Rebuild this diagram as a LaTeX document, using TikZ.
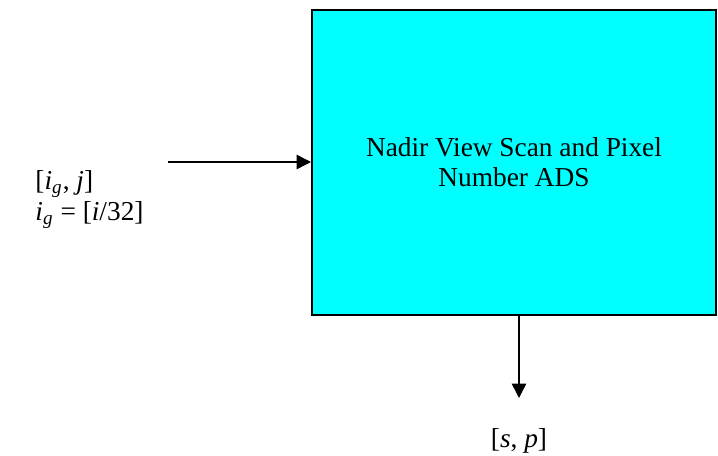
\documentclass[tikz,border=0pt]{standalone}
\usepackage{fontspec}
\setmainfont{Liberation Serif}
\usetikzlibrary{arrows.meta}

\definecolor{adscyan}{RGB}{0,255,255}
\newcommand{\itsub}[2]{\textit{#1}\textsubscript{\textit{#2}}}

\tikzset{
  adsbox/.style={draw, line width=0.9pt, fill=adscyan, inner sep=0pt,
    minimum width=181.8pt, minimum height=137.3pt, align=center},
  flow/.style={line width=0.7pt, -{Triangle[length=6.5pt,width=6.5pt]}},
  lbl/.style={inner sep=0pt, anchor=base west}
}

\begin{document}
\begin{tikzpicture}[x=0.45pt, y=-0.45pt, font=\fontsize{12.3pt}{13.5pt}\selectfont]
    \useasboundingbox (0,0) rectangle (718,456);
    \node[adsbox] (ads) at (514,162.5) {Nadir View Scan and Pixel\\Number ADS};
    \node[lbl] (igj) at (35,190) {[\itsub{i}{g}, \textit{j}]};
    \node[lbl] (igdef) at (35,221) {\itsub{i}{g} = [\textit{i}/32]};
    \node[inner sep=0pt, anchor=base] (sp) at (519,447) {[\textit{s}, \textit{p}]};
    \coordinate (in) at (168,162);
    \coordinate (out) at (519,398);
    \draw[flow] (in) -- (in -| ads.west);
    \draw[flow] (ads.south -| out) -- (out);
  \end{tikzpicture}
\end{document}
